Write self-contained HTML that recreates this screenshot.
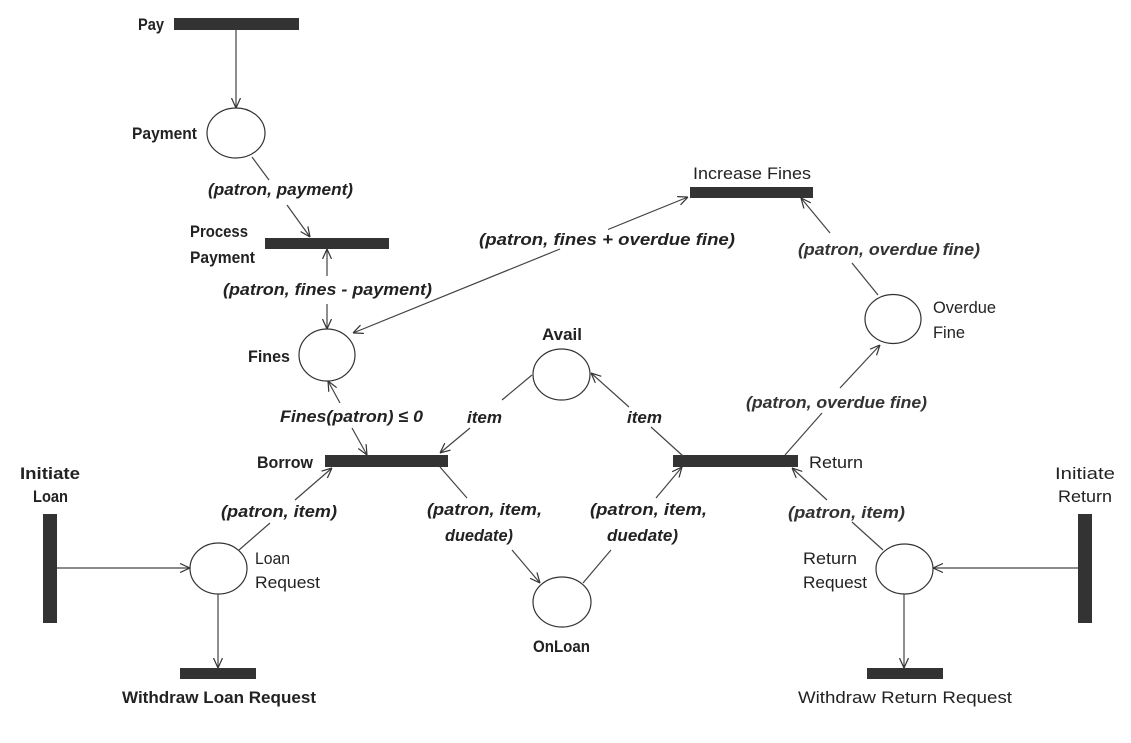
<!DOCTYPE html>
<html>
<head>
<meta charset="utf-8">
<style>
html,body{margin:0;padding:0;background:#fff;}
svg{display:block;}
text{font-family:"Liberation Sans",sans-serif;fill:#222;font-size:17px;}
.b{font-weight:bold;}
.n{font-weight:normal;}
.i{font-style:italic;font-weight:bold;}
.in{font-style:italic;font-weight:bold;fill:#333;}
line{stroke:#444;stroke-width:1.2;}
.bar{fill:#333;}
ellipse{fill:#fff;stroke:#333;stroke-width:1.2;}
</style>
</head>
<body>
<svg width="1131" height="743" viewBox="0 0 1131 743" xmlns="http://www.w3.org/2000/svg">
<defs>
<marker id="a" viewBox="0 0 10 10" refX="10" refY="5" markerWidth="10" markerHeight="10" markerUnits="userSpaceOnUse" orient="auto-start-reverse">
<path d="M0,0.5 L10,5 L0,9.5" fill="none" stroke="#333" stroke-width="1.2"/>
</marker>
</defs>

<!-- transitions -->
<rect class="bar" x="174" y="18" width="125" height="12"/>
<rect class="bar" x="265" y="238" width="124" height="11"/>
<rect class="bar" x="690" y="187" width="123" height="11"/>
<rect class="bar" x="325" y="455" width="123" height="12"/>
<rect class="bar" x="673" y="455" width="125" height="12"/>
<rect class="bar" x="43" y="514" width="14" height="109"/>
<rect class="bar" x="1078" y="514" width="14" height="109"/>
<rect class="bar" x="180" y="668" width="76" height="11"/>
<rect class="bar" x="867" y="668" width="76" height="11"/>

<!-- places -->
<ellipse cx="236" cy="133" rx="29" ry="25"/>
<ellipse cx="327" cy="355" rx="28" ry="26"/>
<ellipse cx="561.5" cy="374.5" rx="28.5" ry="25.5"/>
<ellipse cx="562" cy="602" rx="29" ry="25"/>
<ellipse cx="893" cy="319" rx="28" ry="24.5"/>
<ellipse cx="218.5" cy="568.5" rx="28.5" ry="25.5"/>
<ellipse cx="904.5" cy="569" rx="28.5" ry="25"/>

<!-- arcs -->
<line x1="236" y1="30" x2="236" y2="108" marker-end="url(#a)"/>
<line x1="252" y1="157" x2="269" y2="180"/>
<line x1="287" y1="205" x2="310" y2="237" marker-end="url(#a)"/>
<line x1="327" y1="249" x2="327" y2="276" marker-start="url(#a)"/>
<line x1="327" y1="304" x2="327" y2="329" marker-end="url(#a)"/>
<line x1="353" y1="333" x2="560" y2="249" marker-start="url(#a)"/>
<line x1="608" y1="229.5" x2="688" y2="197" marker-end="url(#a)"/>
<line x1="328" y1="381" x2="340" y2="403" marker-start="url(#a)"/>
<line x1="352" y1="428" x2="367" y2="455" marker-end="url(#a)"/>
<line x1="878" y1="295" x2="852" y2="263"/>
<line x1="830" y1="233" x2="801" y2="198" marker-end="url(#a)"/>
<line x1="785" y1="455" x2="822" y2="413"/>
<line x1="840" y1="388" x2="880" y2="345" marker-end="url(#a)"/>
<line x1="57" y1="568" x2="190" y2="568" marker-end="url(#a)"/>
<line x1="239" y1="550" x2="270" y2="523"/>
<line x1="295" y1="500" x2="332" y2="468" marker-end="url(#a)"/>
<line x1="218" y1="594" x2="218" y2="668" marker-end="url(#a)"/>
<line x1="532" y1="375" x2="502" y2="400"/>
<line x1="470" y1="428" x2="440" y2="453" marker-end="url(#a)"/>
<line x1="683" y1="456" x2="651" y2="427"/>
<line x1="629" y1="407" x2="591" y2="373" marker-end="url(#a)"/>
<line x1="440" y1="467" x2="467" y2="498"/>
<line x1="512" y1="550" x2="540" y2="583" marker-end="url(#a)"/>
<line x1="583" y1="583" x2="611" y2="550"/>
<line x1="656" y1="498" x2="682" y2="467" marker-end="url(#a)"/>
<line x1="883" y1="550" x2="852" y2="522"/>
<line x1="827" y1="500" x2="792" y2="468" marker-end="url(#a)"/>
<line x1="1078" y1="568" x2="933" y2="568" marker-end="url(#a)"/>
<line x1="904" y1="594" x2="904" y2="668" marker-end="url(#a)"/>

<!-- node labels -->
<text class="b" x="138" y="30" textLength="26" lengthAdjust="spacingAndGlyphs">Pay</text>
<text class="b" x="132" y="139" textLength="65" lengthAdjust="spacingAndGlyphs">Payment</text>
<text class="b" x="190" y="237" textLength="58" lengthAdjust="spacingAndGlyphs">Process</text>
<text class="b" x="190" y="263" textLength="65" lengthAdjust="spacingAndGlyphs">Payment</text>
<text class="b" x="248" y="362" textLength="42" lengthAdjust="spacingAndGlyphs">Fines</text>
<text class="b" x="257" y="468" textLength="56" lengthAdjust="spacingAndGlyphs">Borrow</text>
<text class="n" x="693" y="179" textLength="118" lengthAdjust="spacingAndGlyphs">Increase Fines</text>
<text class="n" x="933" y="313" textLength="63" lengthAdjust="spacingAndGlyphs">Overdue</text>
<text class="n" x="933" y="338" textLength="32" lengthAdjust="spacingAndGlyphs">Fine</text>
<text class="n" x="809" y="468" textLength="54" lengthAdjust="spacingAndGlyphs">Return</text>
<text class="b" x="542" y="340" textLength="40" lengthAdjust="spacingAndGlyphs">Avail</text>
<text class="b" x="533" y="652" textLength="57" lengthAdjust="spacingAndGlyphs">OnLoan</text>
<text class="b" x="20" y="479" textLength="60" lengthAdjust="spacingAndGlyphs">Initiate</text>
<text class="b" x="33" y="502" textLength="35" lengthAdjust="spacingAndGlyphs">Loan</text>
<text class="n" x="255" y="564" textLength="35" lengthAdjust="spacingAndGlyphs">Loan</text>
<text class="n" x="255" y="588" textLength="65" lengthAdjust="spacingAndGlyphs">Request</text>
<text class="b" x="122" y="703" textLength="194" lengthAdjust="spacingAndGlyphs">Withdraw Loan Request</text>
<text class="n" x="803" y="564" textLength="54" lengthAdjust="spacingAndGlyphs">Return</text>
<text class="n" x="803" y="588" textLength="64" lengthAdjust="spacingAndGlyphs">Request</text>
<text class="n" x="1055" y="479" textLength="60" lengthAdjust="spacingAndGlyphs">Initiate</text>
<text class="n" x="1058" y="502" textLength="54" lengthAdjust="spacingAndGlyphs">Return</text>
<text class="n" x="798" y="703" textLength="214" lengthAdjust="spacingAndGlyphs">Withdraw Return Request</text>

<!-- arc labels -->
<text class="i" x="208" y="195" textLength="145" lengthAdjust="spacingAndGlyphs">(patron, payment)</text>
<text class="i" x="223" y="295" textLength="209" lengthAdjust="spacingAndGlyphs">(patron, fines - payment)</text>
<text class="i" x="479" y="245" textLength="256" lengthAdjust="spacingAndGlyphs">(patron, fines + overdue fine)</text>
<text class="in" x="798" y="255" textLength="182" lengthAdjust="spacingAndGlyphs">(patron, overdue fine)</text>
<text class="in" x="746" y="408" textLength="181" lengthAdjust="spacingAndGlyphs">(patron, overdue fine)</text>
<text class="i" x="280" y="422" textLength="143" lengthAdjust="spacingAndGlyphs">Fines(patron) ≤ 0</text>
<text class="i" x="467" y="423" textLength="35" lengthAdjust="spacingAndGlyphs">item</text>
<text class="i" x="627" y="423" textLength="35" lengthAdjust="spacingAndGlyphs">item</text>
<text class="i" x="221" y="517" textLength="116" lengthAdjust="spacingAndGlyphs">(patron, item)</text>
<text class="in" x="788" y="518" textLength="117" lengthAdjust="spacingAndGlyphs">(patron, item)</text>
<text class="i" x="427" y="515" textLength="115" lengthAdjust="spacingAndGlyphs">(patron, item,</text>
<text class="i" x="445" y="541" textLength="68" lengthAdjust="spacingAndGlyphs">duedate)</text>
<text class="i" x="590" y="515" textLength="117" lengthAdjust="spacingAndGlyphs">(patron, item,</text>
<text class="i" x="607" y="541" textLength="71" lengthAdjust="spacingAndGlyphs">duedate)</text>
</svg>
</body>
</html>
